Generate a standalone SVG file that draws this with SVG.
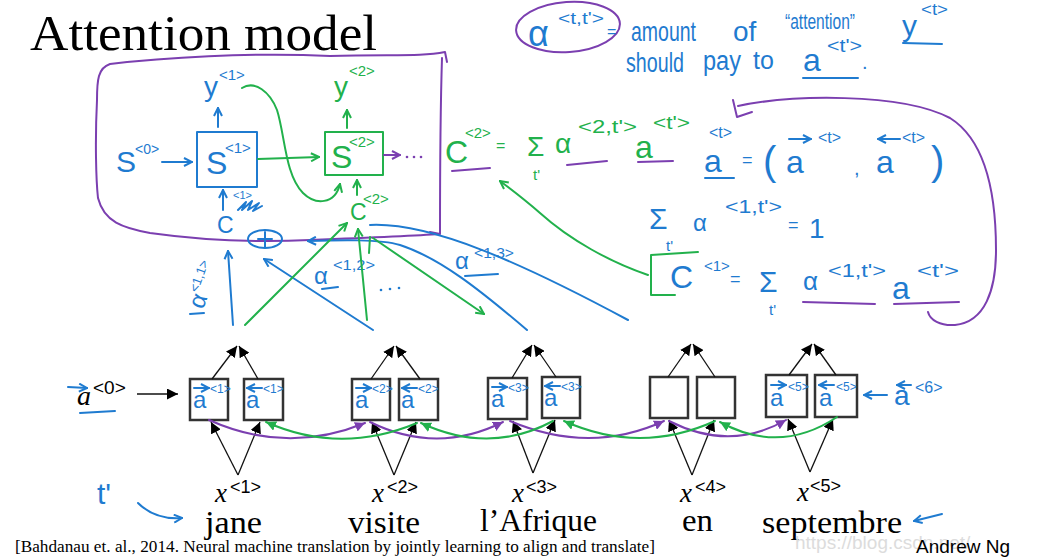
<svg xmlns="http://www.w3.org/2000/svg" width="1042" height="559" viewBox="0 0 1042 559">
<defs>
<style>
.hb{fill:#1f7bd0;font-family:"Liberation Sans",sans-serif}
.hg{fill:#22b14c;font-family:"Liberation Sans",sans-serif}
.sb{stroke:#1f7bd0;fill:none;stroke-width:2;stroke-linecap:round;stroke-linejoin:round}
.sg{stroke:#22b14c;fill:none;stroke-width:2;stroke-linecap:round;stroke-linejoin:round}
.sp{stroke:#7b3fb0;fill:none;stroke-width:2;stroke-linecap:round;stroke-linejoin:round}
.bk{stroke:#111;fill:none;stroke-width:1.3}
.box{fill:#fff;stroke:#333;stroke-width:2.5}
.sf{font-family:"Liberation Serif",serif;fill:#000}
.ss{font-family:"Liberation Sans",sans-serif;fill:#000}
</style>
<marker id="cb" viewBox="0 0 10 10" refX="9" refY="5" markerWidth="10" markerHeight="10" markerUnits="userSpaceOnUse" orient="auto"><path d="M1,1 L9,5 L1,9" fill="none" stroke="#1f7bd0" stroke-width="2"/></marker>
<marker id="cg" viewBox="0 0 10 10" refX="9" refY="5" markerWidth="10" markerHeight="10" markerUnits="userSpaceOnUse" orient="auto"><path d="M1,1 L9,5 L1,9" fill="none" stroke="#22b14c" stroke-width="2"/></marker>
<marker id="cp" viewBox="0 0 10 10" refX="9" refY="5" markerWidth="10" markerHeight="10" markerUnits="userSpaceOnUse" orient="auto"><path d="M1,1 L9,5 L1,9" fill="none" stroke="#7b3fb0" stroke-width="2"/></marker>
<marker id="fk" viewBox="0 0 10 10" refX="10" refY="5" markerWidth="11" markerHeight="11" markerUnits="userSpaceOnUse" orient="auto"><path d="M0,0 L10,5 L0,10 z" fill="#000"/></marker>
<marker id="fp" viewBox="0 0 10 10" refX="10" refY="5" markerWidth="10" markerHeight="10" markerUnits="userSpaceOnUse" orient="auto"><path d="M0,0 L10,5 L0,10 z" fill="#7b3fb0"/></marker>
<marker id="fg" viewBox="0 0 10 10" refX="10" refY="5" markerWidth="10" markerHeight="10" markerUnits="userSpaceOnUse" orient="auto"><path d="M0,0 L10,5 L0,10 z" fill="#22b14c"/></marker>
</defs>
<rect width="1042" height="559" fill="#fff"/>

<!-- title -->
<text class="sf" x="30" y="50" font-size="50" textLength="347" lengthAdjust="spacingAndGlyphs">Attention model</text>

<!-- definition top right -->
<g id="definition">
<ellipse cx="568" cy="27" rx="52" ry="25" transform="rotate(-4 568 27)" class="sp"/>
<text class="hb" x="528" y="46" font-size="36">α</text>
<text class="hb" x="558" y="24" font-size="16" textLength="46" lengthAdjust="spacingAndGlyphs">&lt;t,t'&gt;</text>
<text class="hb" x="607" y="37" font-size="16">=</text>
<text class="hb" x="631" y="41" font-size="28" textLength="65" lengthAdjust="spacingAndGlyphs">amount</text>
<text class="hb" x="733" y="41" font-size="28">of</text>
<text class="hb" x="785" y="29" font-size="22" textLength="70" lengthAdjust="spacingAndGlyphs">“attention”</text>
<text class="hb" x="902" y="36" font-size="30">y</text>
<text class="hb" x="921" y="15" font-size="16" textLength="27" lengthAdjust="spacingAndGlyphs">&lt;t&gt;</text>
<path class="sb" d="M903,43 L942,44"/>
<text class="hb" x="626" y="72" font-size="27" textLength="58" lengthAdjust="spacingAndGlyphs">should</text>
<text class="hb" x="703" y="70" font-size="27" textLength="38" lengthAdjust="spacingAndGlyphs">pay</text>
<text class="hb" x="753" y="69" font-size="25">to</text>
<text class="hb" x="803" y="71" font-size="32">a</text>
<text class="hb" x="827" y="52" font-size="18" textLength="35" lengthAdjust="spacingAndGlyphs">&lt;t'&gt;</text>
<text class="hb" x="862" y="69" font-size="20">.</text>
<path class="sb" d="M803,78 L858,78"/>
</g>

<!-- decoder (purple box) -->
<g id="decoder-frame">
<path class="sp" d="M447,62 L445,52 C420,57 390,54 330,56 C250,52 160,58 110,64 C98,68 97,80 97,100 C95,140 96,180 98,198 C104,222 123,228 150,233 C200,240 250,243 310,240 C360,238 410,236 440,234 L430,232 M440,234 C440,200 440,120 442,58"/>
</g>

<g id="s0">
<text class="hb" x="116" y="172" font-size="30">S</text>
<text class="hb" x="135" y="154" font-size="14">&lt;0&gt;</text>
</g>
<g id="s1">
<rect x="197" y="132" width="60" height="55" class="sb" stroke-width="2"/>
<text class="hb" x="206" y="174" font-size="32">S</text>
<text class="hb" x="225" y="153" font-size="15">&lt;1&gt;</text>
</g>
<g id="y1">
<text class="hb" x="204" y="96" font-size="28">y</text>
<text class="hb" x="219" y="80" font-size="15">&lt;1&gt;</text>
</g>
<g id="c1">
<text class="hb" x="217" y="233" font-size="23">C</text>
<text class="hb" x="233" y="199" font-size="11">&lt;1&gt;</text>
<path class="sb" d="M238,210 L246,202 L242,210 L252,201 L248,210 L259,203 L253,211 L262,206" stroke-width="1.6"/>
</g>
<g id="sum">
<ellipse cx="265" cy="239" rx="17" ry="9" class="sb"/>
<path class="sb" d="M265,232 L265,247 M258,239 L272,239"/>
</g>
<g id="s2">
<rect x="325" y="132" width="58" height="43" class="sg"/>
<text class="hg" x="331" y="168" font-size="32">S</text>
<text class="hg" x="349" y="147" font-size="15">&lt;2&gt;</text>
</g>
<g id="y2">
<text class="hg" x="334" y="96" font-size="28">y</text>
<text class="hg" x="349" y="76" font-size="15">&lt;2&gt;</text>
</g>
<g id="c2">
<text class="hg" x="350" y="220" font-size="23">C</text>
<text class="hg" x="363" y="204" font-size="15">&lt;2&gt;</text>
</g>
<g id="dots-dec">
<circle cx="407" cy="157" r="1.3" fill="#7b3fb0"/>
<circle cx="414" cy="157" r="1.3" fill="#7b3fb0"/>
<circle cx="421" cy="157" r="1.3" fill="#7b3fb0"/>
</g>

<!-- attention weight labels -->
<g id="alpha11" transform="translate(203,310) rotate(-70)">
<text class="hb" x="0" y="0" font-size="24">α</text>
<text class="hb" x="14" y="-11" font-size="13">&lt;1,1&gt;</text>
</g>
<path class="sb" d="M190,314 L204,313"/>
<g id="alpha12">
<text class="hb" x="314" y="284" font-size="24">α</text>
<text class="hb" x="333" y="270" font-size="15" textLength="42" lengthAdjust="spacingAndGlyphs">&lt;1,2&gt;</text>
<path class="sb" d="M322,289 L338,287"/>
</g>
<g id="alpha13">
<text class="hb" x="455" y="269" font-size="24">α</text>
<text class="hb" x="474" y="258" font-size="15" textLength="40" lengthAdjust="spacingAndGlyphs">&lt;1,3&gt;</text>
<path class="sb" d="M465,276 L498,274"/>
</g>
<g id="dots-alpha">
<circle cx="381" cy="290" r="1.3" fill="#1f7bd0"/>
<circle cx="390" cy="289" r="1.3" fill="#1f7bd0"/>
<circle cx="399" cy="288" r="1.3" fill="#1f7bd0"/>
</g>

<!-- formulas -->
<g id="formula-c2">
<text class="hg" x="445" y="163" font-size="32">C</text>
<text class="hg" x="465" y="138" font-size="15">&lt;2&gt;</text>
<text class="hg" x="496" y="151" font-size="16">=</text>
<text class="hg" x="527" y="156" font-size="28">Σ</text>
<text class="hg" x="533" y="180" font-size="15">t'</text>
<text class="hg" x="555" y="153" font-size="28">α</text>
<text class="hg" x="578" y="133" font-size="19" textLength="59" lengthAdjust="spacingAndGlyphs">&lt;2,t'&gt;</text>
<text class="hg" x="635" y="158" font-size="32">a</text>
<text class="hg" x="653" y="129" font-size="18" textLength="37" lengthAdjust="spacingAndGlyphs">&lt;t'&gt;</text>
<path class="sp" d="M452,171 L490,168 M567,165 L607,161 M638,162 L673,161"/>
</g>
<g id="formula-a">
<text class="hb" x="704" y="172" font-size="32">a</text>
<text class="hb" x="709" y="138" font-size="16">&lt;t&gt;</text>
<path class="sb" d="M705,178 L734,178"/>
<text class="hb" x="742" y="166" font-size="18">=</text>
<text class="hb" x="763" y="175" font-size="40">(</text>
<path class="sb" d="M789,139 L811,139" marker-end="url(#cb)" stroke-width="1.6"/>
<text class="hb" x="786" y="173" font-size="32">a</text>
<text class="hb" x="818" y="143" font-size="16">&lt;t&gt;</text>
<text class="hb" x="854" y="175" font-size="20">,</text>
<path class="sb" d="M900,139 L878,139" marker-end="url(#cb)" stroke-width="1.6"/>
<text class="hb" x="876" y="173" font-size="32">a</text>
<text class="hb" x="902" y="143" font-size="16">&lt;t&gt;</text>
<text class="hb" x="931" y="175" font-size="40">)</text>
</g>
<g id="formula-sum1">
<text class="hb" x="649" y="229" font-size="30">Σ</text>
<text class="hb" x="666" y="251" font-size="15">t'</text>
<text class="hb" x="693" y="231" font-size="24">α</text>
<text class="hb" x="725" y="213" font-size="19" textLength="57" lengthAdjust="spacingAndGlyphs">&lt;1,t'&gt;</text>
<text class="hb" x="788" y="231" font-size="18">=</text>
<text class="hb" x="809" y="238" font-size="28">1</text>
</g>
<g id="formula-c1">
<path class="sg" d="M698,252 L651,255 L651,295 L675,295"/>
<text class="hb" x="670" y="288" font-size="32">C</text>
<text class="hb" x="704" y="271" font-size="15">&lt;1&gt;</text>
<text class="hb" x="730" y="285" font-size="18">=</text>
<text class="hb" x="759" y="292" font-size="30">Σ</text>
<text class="hb" x="769" y="315" font-size="15">t'</text>
<text class="hb" x="803" y="290" font-size="26">α</text>
<text class="hb" x="828" y="277" font-size="19" textLength="58" lengthAdjust="spacingAndGlyphs">&lt;1,t'&gt;</text>
<text class="hb" x="892" y="299" font-size="32">a</text>
<text class="hb" x="917" y="277" font-size="19" textLength="42" lengthAdjust="spacingAndGlyphs">&lt;t'&gt;</text>
<path class="sp" d="M803,302 L875,304 M894,304 L959,302"/>
</g>

<!-- encoder boxes -->
<g id="enc1f"><rect class="box" x="190" y="379" width="38" height="41"/><path class="sb" d="M194,388 L209,388" marker-end="url(#cb)" stroke-width="1.5"/><text class="hb" x="193" y="408" font-size="24">a</text><text class="hb" x="210" y="393" font-size="12">&lt;1&gt;</text></g>
<g id="enc1b"><rect class="box" x="244" y="379" width="39" height="41"/><path class="sb" d="M262,388 L247,388" marker-end="url(#cb)" stroke-width="1.5"/><text class="hb" x="246" y="408" font-size="24">a</text><text class="hb" x="263" y="393" font-size="12">&lt;1&gt;</text></g>
<g id="enc2f"><rect class="box" x="352" y="379" width="38" height="41"/><path class="sb" d="M356,388 L371,388" marker-end="url(#cb)" stroke-width="1.5"/><text class="hb" x="355" y="408" font-size="24">a</text><text class="hb" x="372" y="393" font-size="12">&lt;2&gt;</text></g>
<g id="enc2b"><rect class="box" x="399" y="379" width="39" height="41"/><path class="sb" d="M417,388 L402,388" marker-end="url(#cb)" stroke-width="1.5"/><text class="hb" x="401" y="408" font-size="24">a</text><text class="hb" x="418" y="393" font-size="12">&lt;2&gt;</text></g>
<g id="enc3f"><rect class="box" x="488" y="378" width="39" height="41"/><path class="sb" d="M492,387 L507,387" marker-end="url(#cb)" stroke-width="1.5"/><text class="hb" x="491" y="407" font-size="24">a</text><text class="hb" x="508" y="392" font-size="12">&lt;3&gt;</text></g>
<g id="enc3b"><rect class="box" x="542" y="377" width="38" height="41"/><path class="sb" d="M560,386 L545,386" marker-end="url(#cb)" stroke-width="1.5"/><text class="hb" x="544" y="406" font-size="24">a</text><text class="hb" x="561" y="391" font-size="12">&lt;3&gt;</text></g>
<g id="enc4f"><rect class="box" x="650" y="377" width="38" height="41"/></g>
<g id="enc4b"><rect class="box" x="697" y="377" width="38" height="41"/></g>
<g id="enc5f"><rect class="box" x="766" y="375" width="41" height="42"/><path class="sb" d="M771,385 L786,385" marker-end="url(#cb)" stroke-width="1.5"/><text class="hb" x="770" y="406" font-size="24">a</text><text class="hb" x="788" y="391" font-size="12">&lt;5&gt;</text></g>
<g id="enc5b"><rect class="box" x="815" y="375" width="42" height="42"/><path class="sb" d="M834,385 L819,385" marker-end="url(#cb)" stroke-width="1.5"/><text class="hb" x="819" y="406" font-size="24">a</text><text class="hb" x="836" y="391" font-size="12">&lt;5&gt;</text></g>

<g id="a0">
<path class="sb" d="M68,387 L87,388" marker-end="url(#cb)" stroke-width="1.6"/>
<text class="sf" x="77" y="405" font-size="28" font-style="italic">a</text>
<text class="ss" x="93" y="394" font-size="19">&lt;0&gt;</text>
<path class="sb" d="M80,413 L115,411"/>
</g>
<g id="a6">
<path class="sb" d="M911,385 L897,385" marker-end="url(#cb)" stroke-width="1.5"/>
<text class="hb" x="894" y="405" font-size="28">a</text>
<text class="hb" x="915" y="393" font-size="16">&lt;6&gt;</text>
</g>

<!-- inputs -->
<g id="x1"><text class="sf" x="215" y="502" font-size="27" font-style="italic">x</text><text class="ss" x="230" y="493" font-size="18">&lt;1&gt;</text><text class="sf" x="205" y="533" font-size="31" textLength="57" lengthAdjust="spacingAndGlyphs">jane</text></g>
<g id="x2"><text class="sf" x="372" y="502" font-size="27" font-style="italic">x</text><text class="ss" x="387" y="493" font-size="18">&lt;2&gt;</text><text class="sf" x="348" y="533" font-size="31" textLength="72" lengthAdjust="spacingAndGlyphs">visite</text></g>
<g id="x3"><text class="sf" x="512" y="502" font-size="27" font-style="italic">x</text><text class="ss" x="526" y="493" font-size="18">&lt;3&gt;</text><text class="sf" x="480" y="531" font-size="31" textLength="117" lengthAdjust="spacingAndGlyphs">l’Afrique</text></g>
<g id="x4"><text class="sf" x="680" y="502" font-size="27" font-style="italic">x</text><text class="ss" x="695" y="493" font-size="18">&lt;4&gt;</text><text class="sf" x="682" y="531" font-size="31" textLength="31" lengthAdjust="spacingAndGlyphs">en</text></g>
<g id="x5"><text class="sf" x="797" y="501" font-size="27" font-style="italic">x</text><text class="ss" x="810" y="492" font-size="18">&lt;5&gt;</text><text class="sf" x="762" y="533" font-size="31" textLength="140" lengthAdjust="spacingAndGlyphs">septembre</text></g>

<g id="tprime">
<text class="hb" x="97" y="504" font-size="30">t'</text>
</g>

<text class="sf" x="15" y="552" font-size="16.5" textLength="640" lengthAdjust="spacingAndGlyphs">[Bahdanau et. al., 2014. Neural machine translation by jointly learning to align and translate]</text>
<text x="795" y="549" font-family="Liberation Sans,sans-serif" font-size="19" fill="#dcdcdc">https://blog.csdn.net/</text>
<text class="ss" x="916" y="553" font-size="19">Andrew Ng</text>

<!-- connectors -->
<g id="connectors">
<path class="sb" d="M218,127 L218,108" marker-end="url(#cb)"/>
<path class="sb" d="M162,162 L192,162" marker-end="url(#cb)"/>
<path class="sg" d="M258,159 L319,157" marker-end="url(#cg)"/>
<path class="sp" d="M384,155 L400,155" marker-end="url(#cp)"/>
<path class="sb" d="M223,210 L223,190" marker-end="url(#cb)"/>
<path class="sg" d="M347,128 L347,110" marker-end="url(#cg)"/>
<path class="sg" d="M242,88 C255,80 270,92 277,110 C285,135 285,175 303,193 C315,205 335,205 340,184" marker-end="url(#cg)"/>
<path class="sg" d="M357,195 L357,180" marker-end="url(#cg)"/>
<path class="sb" d="M233,325 L228,251" marker-end="url(#cb)"/>
<path class="sb" d="M373,330 L264,259" marker-end="url(#cb)"/>
<path class="sb" d="M527,330 C480,290 440,258 400,245 C380,239 340,240 308,241" marker-end="url(#cb)"/>
<path class="sb" d="M370,225 C430,222 520,262 628,320"/>
<path class="sg" d="M245,325 L347,223" marker-end="url(#cg)"/>
<path class="sg" d="M367,320 L358,229" marker-end="url(#cg)"/>
<path class="sg" d="M370,237 L369,253"/>
<path class="sg" d="M373,238 L484,314" marker-end="url(#cg)"/>
<path class="sg" d="M648,275 C610,262 570,240 540,213 C525,200 512,190 500,181" marker-end="url(#cg)"/>
<path class="sp" d="M928,312 C930,320 940,326 955,325 C985,322 996,290 996,250 C996,190 985,140 950,118 C900,92 790,95 738,106 M733,100 L737,117 L752,112"/>
<path class="bk" d="M212,379 L237,346" marker-end="url(#fk)"/>
<path class="bk" d="M258,379 L239,346" marker-end="url(#fk)"/>
<path class="bk" d="M371,379 L394,346" marker-end="url(#fk)"/>
<path class="bk" d="M420,379 L396,346" marker-end="url(#fk)"/>
<path class="bk" d="M512,378 L532,345" marker-end="url(#fk)"/>
<path class="bk" d="M556,377 L534,345" marker-end="url(#fk)"/>
<path class="bk" d="M668,377 L691,344" marker-end="url(#fk)"/>
<path class="bk" d="M715,377 L693,344" marker-end="url(#fk)"/>
<path class="bk" d="M789,375 L812,344" marker-end="url(#fk)"/>
<path class="bk" d="M836,375 L814,344" marker-end="url(#fk)"/>
<path class="bk" d="M238,475 L211,422" marker-end="url(#fk)"/>
<path class="bk" d="M238,475 L260,422" marker-end="url(#fk)"/>
<path class="bk" d="M394,475 L372,422" marker-end="url(#fk)"/>
<path class="bk" d="M394,475 L416,422" marker-end="url(#fk)"/>
<path class="bk" d="M533,473 L513,421" marker-end="url(#fk)"/>
<path class="bk" d="M533,473 L555,420" marker-end="url(#fk)"/>
<path class="bk" d="M692,475 L669,420" marker-end="url(#fk)"/>
<path class="bk" d="M692,475 L714,420" marker-end="url(#fk)"/>
<path class="bk" d="M810,472 L788,419" marker-end="url(#fk)"/>
<path class="bk" d="M810,472 L833,419" marker-end="url(#fk)"/>
<path class="bk" d="M137,394 L178,394" marker-end="url(#fk)" stroke-width="1.6"/>
<path class="sp" d="M209,420 Q287,455 365,423" marker-end="url(#fp)"/>
<path class="sp" d="M370,422 Q437,455 503,422" marker-end="url(#fp)"/>
<path class="sp" d="M510,421 Q590,455 664,421" marker-end="url(#fp)"/>
<path class="sp" d="M669,421 Q730,452 786,420" marker-end="url(#fp)"/>
<path class="sg" d="M837,417 Q780,455 720,422" marker-end="url(#fg)"/>
<path class="sg" d="M715,421 Q640,455 564,421" marker-end="url(#fg)"/>
<path class="sg" d="M553,421 Q490,455 421,423" marker-end="url(#fg)"/>
<path class="sg" d="M417,423 Q340,455 266,422" marker-end="url(#fg)"/>
<path class="sb" d="M887,395 L864,395" marker-end="url(#cb)"/>
<path class="sb" d="M942,514 L914,521" marker-end="url(#cb)"/>
<path class="sb" d="M138,503 Q155,520 182,518" marker-end="url(#cb)"/>
</g>
</svg>
